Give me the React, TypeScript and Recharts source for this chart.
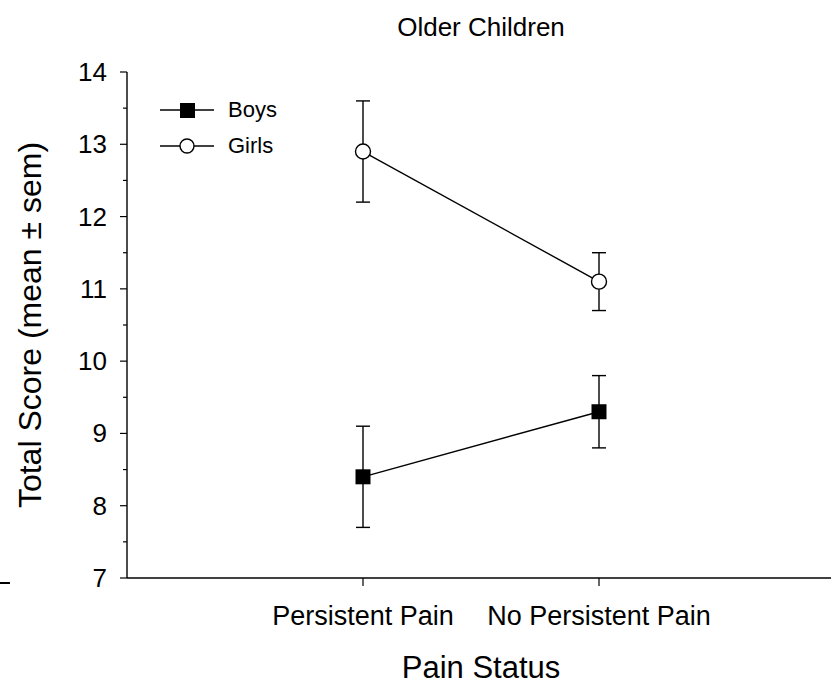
import React from 'react'
import { LineChart, Line, XAxis, YAxis, ErrorBar } from 'recharts'

const categories = ['Persistent Pain', 'No Persistent Pain']
const xPositions = [1, 2]
const boysMean = [8.4, 9.3]
const boysSem = [0.7, 0.5]
const girlsMean = [12.9, 11.1]
const girlsSem = [0.7, 0.4]
const yTicks = [7, 7.5, 8, 8.5, 9, 9.5, 10, 10.5, 11, 11.5, 12, 12.5, 13, 13.5, 14]
const seriesNames = ['Boys', 'Girls']

const FONT = '"Liberation Sans", Arial, sans-serif'

const data = xPositions.map((x, i) => ({
  x,
  name: categories[i],
  boys: boysMean[i],
  boysErr: boysSem[i],
  girls: girlsMean[i],
  girlsErr: girlsSem[i],
}))

const YTick = (props: any) => {
  const { x, y, payload } = props
  const major = Number.isInteger(payload.value)
  return (
    <g>
      <line x1={x} x2={x - (major ? 7 : 4)} y1={y} y2={y} stroke="#000" strokeWidth={1.2} />
      {major && (
        <text x={x - 20} y={y} dy={9} textAnchor="end" fontSize={26} fontFamily={FONT} fill="#000">
          {payload.value}
        </text>
      )}
    </g>
  )
}

const XTick = (props: any) => {
  const { x, y, payload } = props
  return (
    <g>
      <line x1={x} x2={x} y1={y} y2={y + 8} stroke="#000" strokeWidth={1.2} />
      <text x={x} y={y + 47} textAnchor="middle" fontSize={27} fontFamily={FONT} fill="#000">
        {categories[payload.value - 1]}
      </text>
    </g>
  )
}

const SquareDot = (props: any) => {
  const { cx, cy } = props
  if (cx == null || cy == null) return null
  return <rect x={cx - 7.5} y={cy - 7.5} width={15} height={15} fill="#000" />
}

const CircleDot = (props: any) => {
  const { cx, cy } = props
  if (cx == null || cy == null) return null
  return <circle cx={cx} cy={cy} r={7.5} fill="#fff" stroke="#000" strokeWidth={1.4} />
}

const LegendBox = () => (
  <div style={{ position: 'absolute', left: 160, top: 92, fontFamily: FONT, fontSize: 22, color: '#000' }}>
    {seriesNames.map((label, i) => (
      <div key={label} style={{ display: 'flex', alignItems: 'center', height: 36 }}>
        <svg width={68} height={20} style={{ flex: 'none' }}>
          <line x1={0} x2={54} y1={10} y2={10} stroke="#000" strokeWidth={1.4} />
          {i === 0 ? (
            <rect x={20} y={3} width={15} height={15} fill="#000" />
          ) : (
            <circle cx={27} cy={10} r={7} fill="#fff" stroke="#000" strokeWidth={1.4} />
          )}
        </svg>
        <span>{label}</span>
      </div>
    ))}
  </div>
)

export default function App() {
  return (
    <div
      style={{
        position: 'fixed',
        left: 0,
        top: 0,
        width: 831,
        height: 684,
        overflow: 'hidden',
        background: '#fff',
        fontFamily: FONT,
      }}
    >
      <LineChart width={840} height={684} data={data} margin={{ top: 72, right: 5, left: 0, bottom: 46 }}>
        <XAxis
          dataKey="x"
          type="number"
          domain={[0, 3]}
          ticks={xPositions}
          tick={<XTick />}
          tickLine={false}
          tickSize={0}
          tickMargin={0}
          height={60}
          axisLine={{ stroke: '#000', strokeWidth: 1.4 }}
          allowDataOverflow
        />
        <YAxis
          type="number"
          domain={[7, 14]}
          ticks={yTicks}
          tick={<YTick />}
          tickLine={false}
          tickSize={0}
          tickMargin={0}
          width={127}
          interval={0}
          axisLine={{ stroke: '#000', strokeWidth: 1.4 }}
        />
        <Line
          dataKey="boys"
          name="Boys"
          stroke="#000"
          strokeWidth={1.4}
          dot={<SquareDot />}
          activeDot={false}
          isAnimationActive={false}
        >
          <ErrorBar dataKey="boysErr" width={7} stroke="#000" strokeWidth={1.4} direction="y" />
        </Line>
        <Line
          dataKey="girls"
          name="Girls"
          stroke="#000"
          strokeWidth={1.4}
          dot={<CircleDot />}
          activeDot={false}
          isAnimationActive={false}
        >
          <ErrorBar dataKey="girlsErr" width={7} stroke="#000" strokeWidth={1.4} direction="y" />
        </Line>
      </LineChart>
      <LegendBox />
      <div
        style={{
          position: 'absolute',
          left: 0,
          width: 962,
          top: 12,
          textAlign: 'center',
          fontSize: 26,
          color: '#000',
        }}
      >
        Older Children
      </div>
      <div
        style={{
          position: 'absolute',
          left: 30,
          top: 325,
          transform: 'translate(-50%, -50%) rotate(-90deg)',
          whiteSpace: 'nowrap',
          fontSize: 32,
          color: '#000',
        }}
      >
        Total Score (mean ± sem)
      </div>
      <div
        style={{
          position: 'absolute',
          left: 0,
          width: 962,
          top: 650,
          textAlign: 'center',
          fontSize: 31,
          color: '#000',
        }}
      >
        Pain Status
      </div>
      <div style={{ position: 'absolute', left: 0, top: 582, width: 10, height: 1.5, background: '#000' }} />
    </div>
  )
}
